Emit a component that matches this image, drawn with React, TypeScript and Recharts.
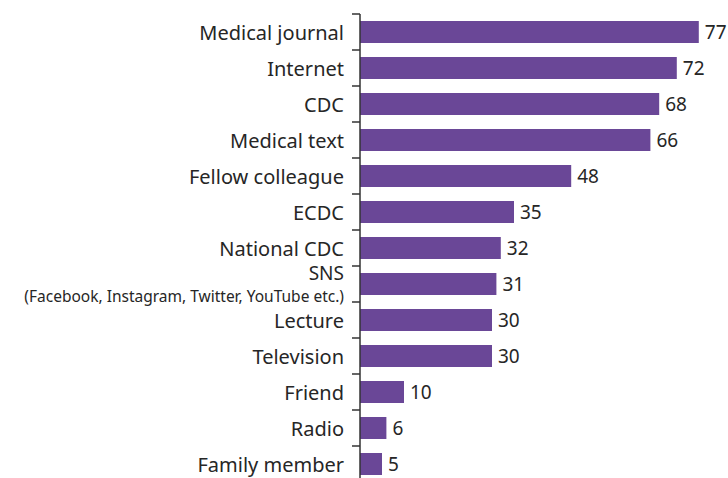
import { BarChart, Bar, XAxis, YAxis, LabelList } from 'recharts'

const sources = [
  'Medical journal',
  'Internet',
  'CDC',
  'Medical text',
  'Fellow colleague',
  'ECDC',
  'National CDC',
  'SNS',
  'Lecture',
  'Television',
  'Friend',
  'Radio',
  'Family member',
]
const counts = [77, 72, 68, 66, 48, 35, 32, 31, 30, 30, 10, 6, 5]
const sublabels: Record<string, string> = {
  SNS: '(Facebook, Instagram, Twitter, YouTube etc.)',
}

const data = sources.map((s, i) => ({ source: s, count: counts[i] }))

const FONT = '"Noto Sans", sans-serif'
const INK = '#262626'

function SourceTick(props: any) {
  const { x, y, payload } = props
  const sub = sublabels[payload.value]
  return (
    <g>
      <line x1={x + 8} x2={x + 16} y1={y - 18} y2={y - 18} stroke="#333" strokeWidth={1.5} />
      {sub ? (
        <>
          <text x={x} y={y - 11} textAnchor="end" dominantBaseline="central" fontSize={19} fill={INK} fontFamily={FONT}>
            {payload.value}
          </text>
          <text x={x} y={y + 12} textAnchor="end" dominantBaseline="central" fontSize={15.5} fill={INK} fontFamily={FONT}>
            {sub}
          </text>
        </>
      ) : (
        <text x={x} y={y} textAnchor="end" dominantBaseline="central" fontSize={20} fill={INK} fontFamily={FONT}>
          {payload.value}
        </text>
      )}
    </g>
  )
}

export default function App() {
  return (
    <div style={{ position: 'fixed', left: 0, top: 0, width: 728, height: 478, overflow: 'hidden', background: '#fff' }}>
      <BarChart
        width={728}
        height={490}
        data={data}
        layout="vertical"
        margin={{ top: 14, right: 16, bottom: 8, left: 0 }}
      >
        <XAxis type="number" domain={[0, 80]} hide />
        <YAxis
          type="category"
          dataKey="source"
          width={360}
          tick={<SourceTick />}
          tickLine={false}
          tickSize={8}
          tickMargin={8}
          axisLine={{ stroke: '#333', strokeWidth: 1.5 }}
          interval={0}
        />
        <Bar dataKey="count" fill="#6a4797" barSize={22} isAnimationActive={false}>
          <LabelList
            dataKey="count"
            position="right"
            offset={6}
            fill={INK}
            fontSize={19}
            fontFamily={FONT}
          />
        </Bar>
      </BarChart>
    </div>
  )
}
